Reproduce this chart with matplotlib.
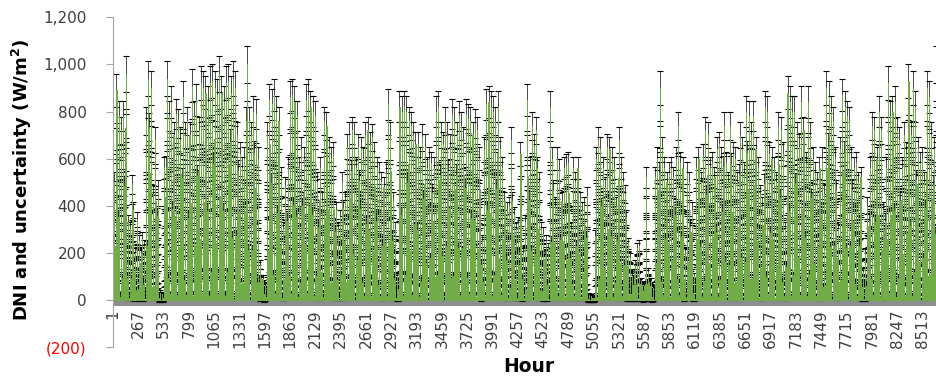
import numpy as np
import matplotlib
matplotlib.use("Agg")
import matplotlib.pyplot as plt

day_peak = [
    500, 890, 780, 720, 780, 960, 330, 300, 490, 200,
    340, 250, 260, 230, 760, 940, 900, 450, 680, 470,
    30, 25, 560, 940, 780, 840, 700, 790, 750, 680,
    860, 700, 760, 700, 910, 780, 850, 720, 920, 900,
    880, 840, 920, 930, 900, 870, 960, 880, 840, 920,
    930, 880,
    940, 900, 700, 620, 560, 600, 1000, 760, 700, 800,
    790, 600, 150, 90, 60, 700, 850, 830, 870, 800,
    760, 520, 300, 480, 560, 860, 870, 840, 780, 560,
    640, 600, 850, 870, 820, 800, 780, 500, 560, 420,
    760, 740, 640, 600, 620, 380, 300, 350, 500, 420,
    650, 700,
    720, 700, 560, 650, 640, 600, 700, 720, 660, 690,
    620, 560, 540, 500, 480, 540, 830, 700, 420, 300,
    100, 820, 800, 820, 800, 760, 740, 700, 660, 660,
    600, 690, 650, 560, 600, 580, 560, 800, 820, 700,
    660, 760, 700, 650, 790, 760, 700, 780, 740, 680,
    790, 770,
    760, 700, 750, 720, 600, 250, 640, 830, 840, 820,
    800, 760, 820, 640, 560, 420, 380, 400, 680, 360,
    300, 320, 620, 200, 330, 850, 560, 740, 650, 720,
    500, 300, 280, 250, 220, 820, 600, 400, 600, 550,
    420, 560, 570, 580, 300, 560, 500, 560, 420, 380,
    400, 440,
    20, 15, 10, 600, 680, 640, 560, 480, 650, 640,
    600, 560, 400, 680, 560, 500, 450, 240, 180, 100,
    150, 220, 230, 80, 60, 520, 120, 80, 50, 520,
    600, 900, 640, 560, 500, 540, 560, 520, 600, 740,
    580, 560, 200, 540, 500, 380, 100, 560, 600, 500,
    610,
    720, 700, 560, 580, 520, 640, 660, 600, 740, 580,
    500, 740, 620, 600, 500, 700, 640, 540, 800, 780,
    700, 780, 640, 560, 450, 400, 820, 800, 620, 600,
    560, 500, 740, 720, 620, 300, 880, 840, 800, 800,
    700, 650, 840, 720, 580, 840, 700, 600, 540, 500,
    560, 600,
    450, 900, 860, 800, 760, 600, 300, 640, 870, 820,
    780, 760, 600, 560, 580, 500, 520, 120, 200, 400,
    560, 740, 720, 600, 800, 720, 380, 560, 920, 780,
    800, 840, 720, 680, 560, 700, 620, 930, 700, 900,
    820, 640, 580, 600, 500, 900, 860, 700, 640, 1000,
    900, 850, 820, 780,
]

# Relative diurnal profile (fraction of the daily peak), hour 0..23
hour_shape = [0, 0, 0, 0, 0, 0, 0.02, 0.12, 0.28, 0.45, 0.60, 0.76,
              1.00, 0.78, 0.62, 0.46, 0.30, 0.13, 0.03, 0, 0, 0, 0, 0]

# Uncertainty of DNI: relative part and absolute part (W/m2)
unc_rel = 0.07
unc_abs = 8

x_tick_values = [1, 267, 533, 799, 1065, 1331, 1597, 1863, 2129, 2395, 2661,
                 2927, 3193, 3459, 3725, 3991, 4257, 4523, 4789, 5055, 5321,
                 5587, 5853, 6119, 6385, 6651, 6917, 7183, 7449, 7715, 7981,
                 8247, 8513]
x_tick_labels = [str(v) for v in x_tick_values]
y_tick_values = [-200, 0, 200, 400, 600, 800, 1000, 1200]
y_tick_labels = ["(200)", "0", "200", "400", "600", "800", "1,000", "1,200"]

dni = np.outer(np.array(day_peak, float), np.array(hour_shape, float)).ravel()
hours = np.arange(1, dni.size + 1)

GREEN = "#70ad47"
W, H = 936, 379
fig = plt.figure(figsize=(W / 100, H / 100), dpi=100)
ax = fig.add_axes([113 / W, (H - 347) / H, 1 - 113 / W, (347 - 17.3) / H])
ax.set_xlim(0.5, 8654.5)
ax.set_ylim(-200, 1200)

ax.axhspan(-28, 0, color="#8e8e8e", lw=0, zorder=1)
m = dni > 0
err = unc_rel * dni[m] + unc_abs
ax.errorbar(hours[m], dni[m], yerr=err, fmt="none", ecolor="black",
            elinewidth=0.5, capsize=2.2, capthick=0.8, zorder=1.5)
ax.bar(hours, dni, width=1.0, color=GREEN, edgecolor=GREEN, linewidth=0.5,
       antialiased=False, zorder=2)

for s in ("top", "right"):
    ax.spines[s].set_visible(False)
ax.spines["bottom"].set_position(("data", -28))
ax.spines["bottom"].set_visible(False)
ax.spines["left"].set_color("#a6a6a6")
ax.spines["left"].set_linewidth(0.8)

ax.set_xticks(x_tick_values)
ax.set_xticklabels(x_tick_labels, rotation=90, fontsize=11, color="#404040")
ax.tick_params(axis="x", length=0, pad=2)
ax.set_yticks(y_tick_values)
ax.set_yticklabels(y_tick_labels, fontsize=11, color="#404040")
ax.tick_params(axis="y", direction="out", length=5, width=0.8,
               color="#a6a6a6", pad=14)
ax.get_yticklabels()[0].set_color("#ff0000")

fig.text(22 / W, 1 - 180 / H, "DNI and uncertainty (W/m$^\\mathbf{2}$)",
         rotation=90, fontsize=13, fontweight="bold", ha="center",
         va="center")
fig.text(529 / W, 1 - 367 / H, "Hour", fontsize=13.5, fontweight="bold",
         ha="center", va="center")

fig.savefig("out.png", dpi=100)
